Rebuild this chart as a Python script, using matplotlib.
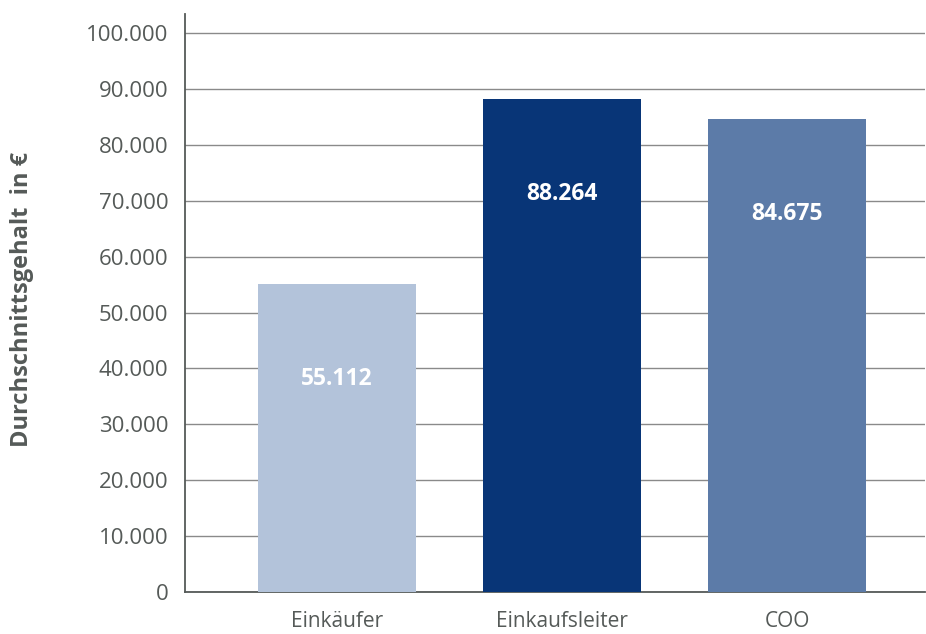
import matplotlib
matplotlib.use("Agg")
import matplotlib.pyplot as plt

categories = ["Einkäufer", "Einkaufsleiter", "COO"]
values = [55112, 88264, 84675]
labels = ["55.112", "88.264", "84.675"]
yticks = [0, 10000, 20000, 30000, 40000, 50000, 60000, 70000, 80000, 90000, 100000]
ytick_labels = ["0", "10.000", "20.000", "30.000", "40.000", "50.000", "60.000",
                "70.000", "80.000", "90.000", "100.000"]
colors = ["#B3C3DA", "#083577", "#5C7BA8"]

plt.rcParams['font.family'] = ['Open Sans', 'DejaVu Sans']
textc = "#555a58"

fig = plt.figure(figsize=(9.26, 6.34), dpi=100)
ax = fig.add_axes([185/926, 1-592/634, (925-185)/926, (592-14)/634])

x = list(range(len(categories)))
ax.bar(x, values, width=0.702, color=colors, zorder=3)
for xi, v, lab in zip(x, values, labels):
    ax.text(xi, v - 17000, lab, ha='center', va='center', color='white',
            fontsize=16.5, fontweight='bold', zorder=4)

ax.set_xlim(-0.676, 2.613)
ax.set_ylim(0, 103400)
ax.set_yticks(yticks)
ax.set_yticklabels(ytick_labels, fontsize=16, color=textc)
ax.set_xticks(x)
ax.set_xticklabels(categories, fontsize=15, color=textc)
ax.tick_params(axis='y', length=0, pad=12)
ax.tick_params(axis='x', length=0, pad=14)
ax.yaxis.grid(True, color="#8a8a8a", linewidth=1.0, zorder=0)
ax.set_axisbelow(True)
for s in ['top', 'right']:
    ax.spines[s].set_visible(False)
for s in ['left', 'bottom']:
    ax.spines[s].set_color("#555a58")
    ax.spines[s].set_linewidth(1.3)

fig.text(22/926, 1-299/634, "Durchschnittsgehalt  in €", rotation=90, ha='center', va='center',
         fontsize=17, fontweight='bold', color=textc)

fig.savefig("out.png", dpi=100)
